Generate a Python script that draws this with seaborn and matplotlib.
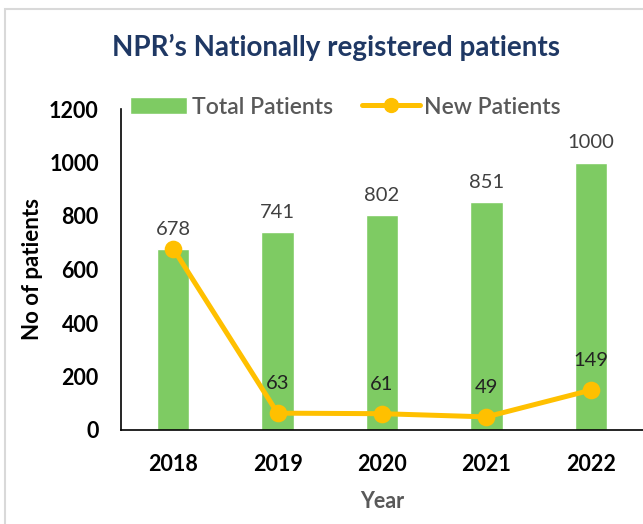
import seaborn as sns
import matplotlib.pyplot as plt
from matplotlib.patches import Patch, Rectangle
from matplotlib.lines import Line2D

years = ["2018", "2019", "2020", "2021", "2022"]
total_patients = [678, 741, 802, 851, 1000]
new_patients = [678, 63, 61, 49, 149]
y_ticks = [0, 200, 400, 600, 800, 1000, 1200]

sns.set_theme(style="white")
plt.rcParams['font.family'] = ['Lato', 'DejaVu Sans']

bar_color = "#7ECB63"
line_color = "#FFC000"

fig = plt.figure(figsize=(6.43, 5.24), dpi=100)
ax = fig.add_axes([121 / 643, 94 / 524, 522 / 643, 321 / 524])

sns.barplot(x=years, y=total_patients, color=bar_color, width=0.31, saturation=1, ax=ax)
sns.pointplot(x=years, y=new_patients, color=line_color, linewidth=3.6,
              markersize=10, ax=ax)

# data labels
ax.bar_label(ax.containers[0], padding=8, fontsize=14.5, color="#404040")
for i in range(1, len(years)):
    ax.annotate(str(new_patients[i]), (i, new_patients[i]), xytext=(0, 15),
                textcoords="offset points", ha="center", va="bottom",
                fontsize=14.5, color="#222222")

ax.set_ylim(0, 1200)
ax.set_xlim(-0.5, 4.5)
ax.set_yticks(y_ticks)
ax.tick_params(axis="both", labelsize=15.5, colors="black", length=0)
ax.tick_params(axis="y", pad=16)
ax.tick_params(axis="x", pad=17)
for lbl in ax.get_xticklabels() + ax.get_yticklabels():
    lbl.set_fontweight("bold")
sns.despine(ax=ax)
for s in ["left", "bottom"]:
    ax.spines[s].set_color("black")
    ax.spines[s].set_linewidth(1.2)

ax.set_xlabel("Year", fontsize=15.5, fontweight="bold", color="#595959", labelpad=12)
ax.set_ylabel("No of patients", fontsize=16, fontweight="bold", color="black", labelpad=4)

fig.text(0.523, 0.91, "NPR\u2019s Nationally registered patients", ha="center", va="center",
         fontsize=20, fontweight="bold", color="#1F3864")

handles = [Patch(facecolor=bar_color, label="Total Patients"),
           Line2D([], [], color=line_color, lw=3.6, marker="o", markersize=10, label="New Patients")]
fig.legend(handles=handles, loc="center left", bbox_to_anchor=(109 / 643, 1 - 107 / 524),
           ncol=2, frameon=False, prop={"size": 16.5, "weight": "semibold"},
           labelcolor="#595959", handlelength=2.5, handletextpad=0.2, columnspacing=1.3)

fig.patches.append(Rectangle((5 / 643, -0.1), 2, 1.1 - 9 / 524, transform=fig.transFigure,
                             fill=False, edgecolor="#D9D9D9", linewidth=1.5))

fig.savefig("out.png", dpi=100)
